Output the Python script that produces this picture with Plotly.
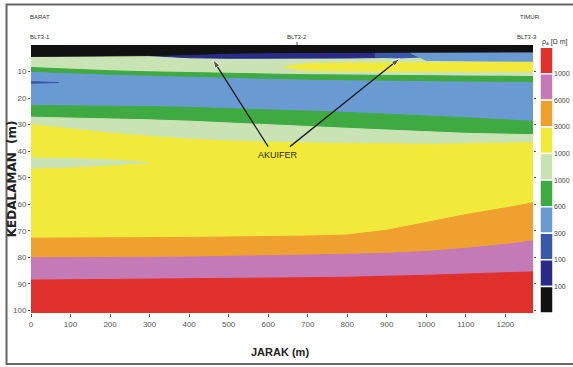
import plotly.graph_objects as go

# ---- resistivity section data (distance in m, depth in m) ----
XS = [0, 100, 200, 300, 400, 500, 600, 700, 800, 900, 1000, 1100, 1200, 1270]

black_bot   = [4.3, 4.2, 4.1, 4.0, 3.6, 3.1, 2.9, 2.8, 2.7, 2.6, 2.6, 2.6, 2.6, 2.6]
green1_top  = [8.5, 9.2, 9.7, 10.1, 10.4, 10.7, 11.0, 11.2, 11.3, 11.5, 11.6, 11.7, 11.8, 11.9]
green1_bot  = [10.3, 10.9, 11.4, 11.8, 12.2, 12.6, 13.0, 13.3, 13.5, 13.7, 13.8, 14.0, 14.1, 14.2]
green2_top  = [22.8, 22.9, 23.0, 23.2, 23.5, 23.9, 24.4, 24.9, 25.4, 26.0, 26.7, 27.4, 28.2, 28.8]
green2_bot  = [27.2, 27.5, 27.8, 28.2, 28.7, 29.3, 30.0, 30.7, 31.4, 32.1, 32.8, 33.3, 33.6, 33.8]
yellow_top  = [30.0, 31.7, 33.2, 34.4, 35.5, 36.2, 36.6, 36.9, 37.1, 37.3, 37.4, 37.2, 37.0, 36.8]
orange_top  = [72.8, 72.8, 72.7, 72.6, 72.5, 72.4, 72.2, 72.0, 71.6, 69.8, 66.9, 63.9, 61.4, 59.5]
purple_top  = [80.2, 80.2, 80.1, 80.0, 79.9, 79.7, 79.5, 79.2, 78.9, 78.5, 77.8, 76.6, 75.2, 73.8]
red_top     = [88.6, 88.5, 88.4, 88.3, 88.2, 88.0, 87.9, 87.7, 87.5, 87.2, 86.8, 86.3, 85.8, 85.5]
BOTTOM = 101.0

# near-surface lenses
navy_x      = [300, 400, 500, 600, 700, 800, 900, 960]
navy_bot    = [4.0, 4.8, 5.0, 5.0, 5.0, 4.9, 4.7, 2.8]
dblue_x     = [870, 930, 990, 1010]
dblue_bot   = [4.6, 4.9, 4.5, 3.0]
lblue_x     = [960, 1000, 1100, 1200, 1270]
lblue_bot   = [3.0, 5.8, 6.0, 6.1, 6.2]
ylens_x     = [640, 700, 800, 900, 1000, 1100, 1200, 1270]
ylens_top   = [8.2, 7.0, 6.8, 6.7, 6.6, 6.6, 6.5, 6.5]
ylens_bot   = [8.4, 9.6, 9.8, 9.9, 9.9, 10.0, 10.0, 10.0]
streak_x    = [0, 30, 70]
streak_top  = [13.8, 13.9, 14.1]
streak_bot  = [14.4, 14.3, 14.15]
glens_x     = [0, 100, 200, 300]
glens_top   = [42.6, 42.8, 43.3, 44.1]
glens_bot   = [46.4, 46.0, 45.2, 44.3]

# aquifer pointers: (tail x, tail depth, head x, head depth)
POINTERS = [(600, 38.3, 460, 5.5), (655, 38.3, 933, 5.1)]

# resistivity classes, top of legend first
CB_COLORS = ["#e0302c", "#c47ab6", "#f0a02e", "#f2ea3a", "#c9e3b5",
             "#40aa42", "#6a9ad2", "#3a58a8", "#2a2a88", "#111111"]
CB_LABELS = ["1000", "6000", "3000", "1000", "1000", "600", "300", "100", "100"]
RED, PURPLE, ORANGE, YELLOW, LGREEN, GREEN, LBLUE, DBLUE, NAVY, BLACK = CB_COLORS

X_TICKS = list(range(0, 1201, 100))
Y_TICKS = list(range(10, 101, 10))

STATIONS = ["BLT3-1", "BLT3-2", "BLT3-3"]
STATION_X = [0, 673, 1262]

FONT = "Liberation Sans, Arial, sans-serif"

fig = go.Figure()


def band(xs, top, bot, color):
    if not isinstance(top, list):
        top = [top] * len(xs)
    if not isinstance(bot, list):
        bot = [bot] * len(xs)
    fig.add_trace(go.Scatter(
        x=list(xs) + list(xs)[::-1], y=list(top) + list(bot)[::-1],
        fill="toself", fillcolor=color, mode="lines",
        line=dict(color=color, width=1), hoverinfo="skip", showlegend=False,
        xaxis="x", yaxis="y"))


# layered stack
band(XS, black_bot, green1_top, LGREEN)
band(XS, green1_top, green1_bot, GREEN)
band(XS, green1_bot, green2_top, LBLUE)
band(XS, green2_top, green2_bot, GREEN)
band(XS, green2_bot, yellow_top, LGREEN)
band(XS, yellow_top, orange_top, YELLOW)
band(XS, orange_top, purple_top, ORANGE)
band(XS, purple_top, red_top, PURPLE)
band(XS, red_top, BOTTOM, RED)

# lenses
band(navy_x, 0.0, navy_bot, NAVY)
band(dblue_x, 0.0, dblue_bot, DBLUE)
band(lblue_x, 0.0, lblue_bot, LBLUE)
band(ylens_x, ylens_top, ylens_bot, YELLOW)
band(streak_x, streak_top, streak_bot, DBLUE)
band(glens_x, glens_top, glens_bot, LGREEN)
band(XS, 0.0, black_bot, BLACK)

# arrows towards the aquifer layers
for x0, y0, x1, y1 in POINTERS:
    fig.add_trace(go.Scatter(
        x=[x0, x1], y=[y0, y1], mode="lines+markers",
        line=dict(color="#1e1e1e", width=1.3),
        marker=dict(symbol="arrow", size=[0, 9], angleref="previous",
                    color="#1e1e1e"),
        hoverinfo="skip", showlegend=False, xaxis="x", yaxis="y"))

# legend column
n = len(CB_COLORS)
fig.add_trace(go.Bar(
    x=[0] * n, y=[1] * n, base=list(range(n - 1, -1, -1)),
    marker=dict(color=CB_COLORS, line=dict(color="white", width=1.5)),
    width=1, hoverinfo="skip", showlegend=False, xaxis="x2", yaxis="y2"))

tick_font = dict(family=FONT, size=8, color="#555")
small = dict(family=FONT, size=6, color="#333")
annotations = [
    dict(x=625, y=41.5, xref="x", yref="y", text="AKUIFER", showarrow=False,
         xanchor="center", yanchor="middle",
         font=dict(family=FONT, size=9, color="#2a2a10")),
    dict(x=-0.036, y=0.5, xref="paper", yref="paper", text="<b>KEDALAMAN  (m)</b>",
         textangle=-90, showarrow=False, xanchor="center", yanchor="middle",
         font=dict(family="DejaVu Sans", size=12, color="#222")),
    dict(x=0.477, y=-0.1455, xref="paper", yref="paper", text="<b>JARAK (m)</b>",
         showarrow=False, xanchor="center", yanchor="middle",
         font=dict(family=FONT, size=11, color="#222")),
    dict(x=0.017, y=1.104, xref="paper", yref="paper", text="BARAT", showarrow=False,
         xanchor="center", yanchor="middle", font=small),
    dict(x=0.955, y=1.104, xref="paper", yref="paper", text="TIMUR", showarrow=False,
         xanchor="center", yanchor="middle", font=small),
    dict(x=1.0, y=1.013, xref="paper", yref="paper", xanchor="center", yanchor="middle",
         xshift=2, text="ρ<sub>a</sub> [Ω m]", showarrow=False,
         font=dict(family=FONT, size=7, color="#333")),
]
for name, sx in zip(STATIONS, STATION_X):
    annotations.append(dict(x=sx, y=1.03, xref="x", yref="paper", text=name,
                            showarrow=False, xanchor="center", yanchor="middle",
                            xshift=9 if sx == 0 else (-3 if sx > 1000 else 0),
                            font=small))

fig.update_layout(
    width=573, height=367,
    margin=dict(l=31, r=20, t=45, b=54),
    paper_bgcolor="white", plot_bgcolor="white",
    xaxis=dict(domain=[0, 502 / 522], range=[0, 1270], tickvals=X_TICKS,
               ticks="outside", ticklen=3, tickcolor="#555", showgrid=False,
               zeroline=False, showline=False, tickfont=tick_font, automargin=False),
    yaxis=dict(range=[BOTTOM, 0], tickvals=Y_TICKS, ticks="outside", ticklen=2,
               tickcolor="#555", showgrid=False, zeroline=False, showline=False,
               mirror="ticks", tickfont=tick_font, automargin=False),
    xaxis2=dict(domain=[509 / 522, 1], range=[-0.5, 0.5], visible=False, anchor="y2"),
    yaxis2=dict(anchor="x2", range=[0, 10.08], side="right",
                tickvals=list(range(n - 1, 0, -1)), ticktext=CB_LABELS,
                ticks="", showgrid=False, zeroline=False, showline=False,
                tickfont=dict(family=FONT, size=7, color="#444"), automargin=False),
    annotations=annotations,
    shapes=[dict(type="rect", xref="paper", yref="paper",
                 x0=-0.0469, x1=1.06, y0=-0.190, y1=1.151,
                 line=dict(color="#666", width=2), fillcolor="rgba(0,0,0,0)",
                 layer="below"),
            dict(type="line", xref="x", yref="paper", x0=673, x1=673, y0=1.0, y1=1.012,
                 line=dict(color="#555", width=1))],
    showlegend=False,
)

fig.write_html("out.html")
